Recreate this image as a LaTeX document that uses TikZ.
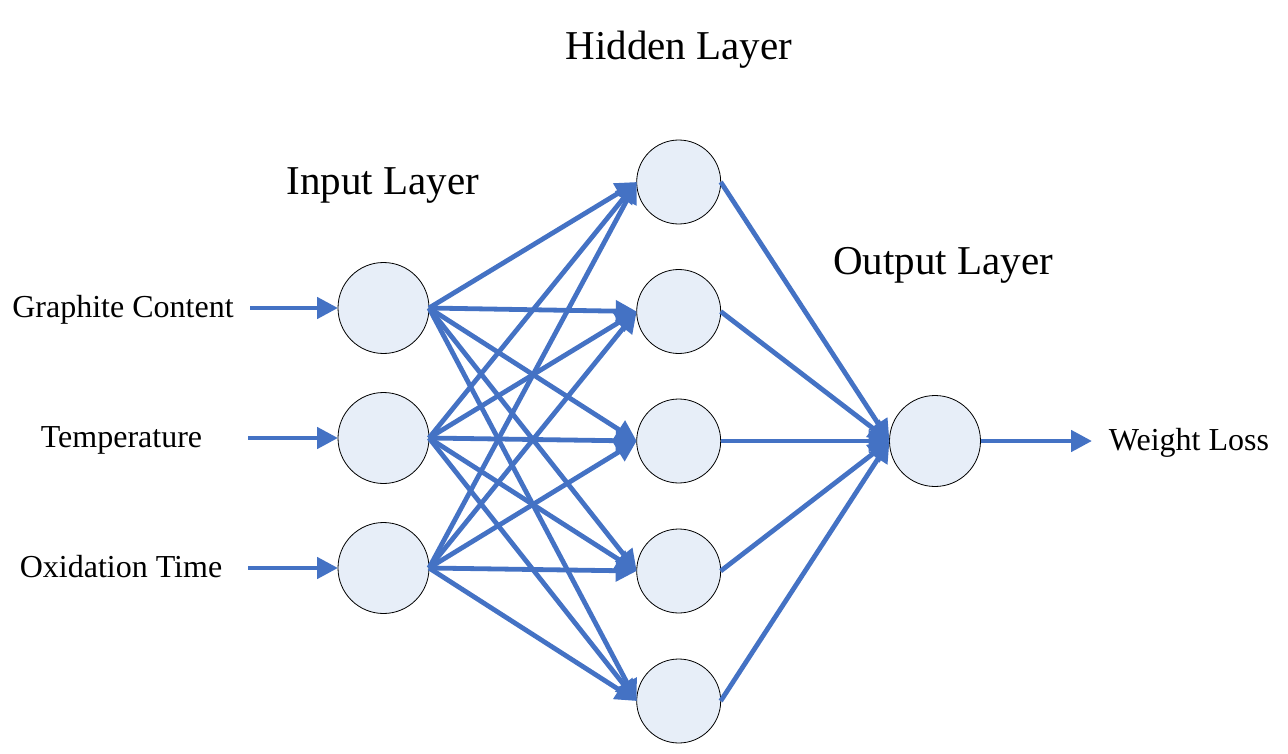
\documentclass[tikz,border=0pt]{standalone}
\usepackage{fontspec}
\setmainfont{Liberation Serif}
\usetikzlibrary{arrows.meta}
\definecolor{edgeblue}{HTML}{4472C4}
\definecolor{nodefill}{HTML}{E7EEF8}
\tikzset{
  neuron/.style={circle, draw=black, line width=0.8pt, fill=nodefill, inner sep=0pt, outer sep=0pt},
  inneuron/.style={neuron, minimum size=91pt},
  hidneuron/.style={neuron, minimum size=84pt},
  outneuron/.style={neuron, minimum size=91pt},
  edge/.style={draw=edgeblue, line width=4.8pt, -{Triangle[length=21pt,width=21pt]}},
  layertitle/.style={font=\fontsize{41}{44}\selectfont, anchor=base},
  label/.style={font=\fontsize{32}{34}\selectfont, anchor=base}
}
\begin{document}
\begin{tikzpicture}[x=1pt,y=-1pt]
\useasboundingbox (0,0) rectangle (1288,754);
% input nodes
\node[inneuron] (i1) at (383.5,308) {};
\node[inneuron] (i2) at (383.5,438) {};
\node[inneuron] (i3) at (383.5,568) {};
% hidden nodes
\node[hidneuron] (h1) at (678.7,182) {};
\node[hidneuron] (h2) at (678.7,311.5) {};
\node[hidneuron] (h3) at (678.7,441) {};
\node[hidneuron] (h4) at (678.7,571) {};
\node[hidneuron] (h5) at (678.7,701) {};
% output
\node[outneuron] (o) at (935,441) {};
% labels
\node[label] (l1) at (123,317) {Graphite Content};
\node[label] (l2) at (121.5,447) {Temperature};
\node[label] (l3) at (121,577) {Oxidation Time};
\node[label] (l4) at (1189,450) {Weight Loss};
\coordinate (a1) at (250,308);
\coordinate (a2) at (248,438);
\coordinate (a3) at (248,568);
\coordinate (w) at (1092,441);
% titles
\node[layertitle] (t1) at (679,60) {Hidden Layer};
\node[layertitle] (t2) at (383,195) {Input Layer};
\node[layertitle] (t3) at (943,275) {Output Layer};
% connectors
\draw[edge] (a1) -- (i1.west);
\draw[edge] (a2) -- (i2.west);
\draw[edge] (a3) -- (i3.west);
\foreach \i in {1,2,3}{
  \foreach \h in {1,...,5}{
    \draw[edge] (i\i.east) -- (h\h.west);
  }
}
\foreach \h in {1,...,5}{
  \draw[edge] (h\h.east) -- (o.west);
}
\draw[edge] (o.east) -- (w);
\end{tikzpicture}
\end{document}
